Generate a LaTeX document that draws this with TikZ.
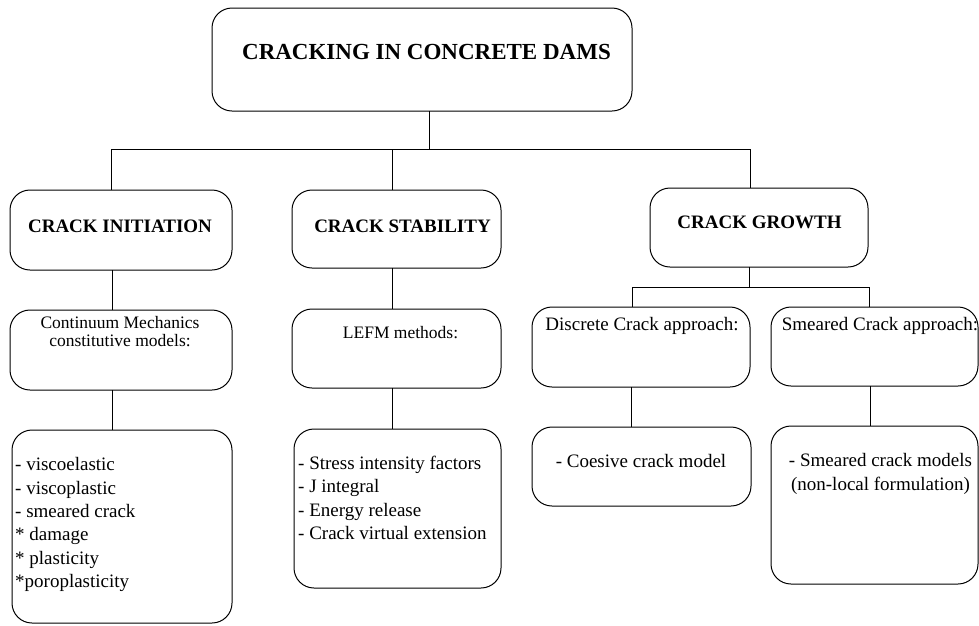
\documentclass[tikz,border=0pt]{standalone}
\usepackage{fontspec}
\setmainfont{Liberation Serif}
\newcommand\mytabl[1]{\begin{tabular}[t]{@{}l@{}}#1\end{tabular}}
\newcommand\mytabc[1]{\begin{tabular}[t]{@{}c@{}}#1\end{tabular}}
\tikzset{
  box/.style={draw, line width=1pt, rounded corners=20pt, inner sep=0pt, outer sep=0pt},
  conn/.style={draw, line width=1pt},
  lbl/.style={anchor=base, inner sep=0pt, font=\fontsize{19}{23.4}\selectfont},
  lbll/.style={anchor=base west, inner sep=0pt, font=\fontsize{19}{23.4}\selectfont},
  hdr/.style={anchor=base, inner sep=0pt, font=\fontsize{19}{23}\selectfont\bfseries},
}
\begin{document}
\begin{tikzpicture}[x=1pt,y=-1pt]
\useasboundingbox (0,0) rectangle (979,625);
% boxes
\node[box, minimum width=420pt, minimum height=103pt] (top) at (422,59.5) {};
\node[box, minimum width=222pt, minimum height=80pt] (init) at (121,230) {};
\node[box, minimum width=209pt, minimum height=78pt] (stab) at (396.5,229) {};
\node[box, minimum width=218pt, minimum height=79pt] (grow) at (759,227.5) {};
\node[box, minimum width=222pt, minimum height=80pt] (cont) at (121,350) {};
\node[box, minimum width=209pt, minimum height=79pt] (lefm) at (396.5,348.5) {};
\node[box, minimum width=218pt, minimum height=80pt] (disc) at (641,347) {};
\node[box, minimum width=207pt, minimum height=79pt] (smea) at (874.5,346.5) {};
\node[box, minimum width=220pt, minimum height=193pt] (list1) at (122,526.5) {};
\node[box, minimum width=207pt, minimum height=159pt] (list2) at (397.5,508.5) {};
\node[box, minimum width=219pt, minimum height=79pt] (coes) at (641.5,466.5) {};
\node[box, minimum width=207pt, minimum height=158pt] (smod) at (874.5,505) {};
% texts
\node[anchor=base, inner sep=0pt, font=\fontsize{23}{27}\selectfont\bfseries] (ttop) at (426.5,59) {CRACKING IN CONCRETE DAMS};
\node[hdr] (tinit) at (120,232.5) {CRACK INITIATION};
\node[hdr] (tstab) at (402.5,232.5) {CRACK STABILITY};
\node[hdr] (tgrow) at (759.5,228) {CRACK GROWTH};
\node[anchor=base, inner sep=0pt, font=\fontsize{17.5}{18.5}\selectfont] (tcont) at (120,328.3) {\mytabc{Continuum Mechanics\\constitutive models:}};
\node[anchor=base, inner sep=0pt, font=\fontsize{17.5}{20}\selectfont] (tlefm) at (400.5,338) {LEFM methods:};
\node[lbl] (tdisc) at (642,330) {Discrete Crack approach:};
\node[lbl] (tsmea) at (880,330) {Smeared Crack approach:};
\node[lbll] (tlist1) at (15,470.7) {\mytabl{- viscoelastic\\- viscoplastic\\- smeared crack\\{*} damage\\{*} plasticity\\{*}poroplasticity}};
\node[lbll] (tlist2) at (298,469.3) {\mytabl{- Stress intensity factors\\- J integral\\- Energy release\\- Crack virtual extension}};
\node[lbl] (tcoes) at (641,467) {- Coesive crack model};
\node[anchor=base, inner sep=0pt, font=\fontsize{19}{24}\selectfont] (tsmod) at (880.5,466.7) {\mytabc{- Smeared crack models\\(non-local formulation)}};
% junctions
\coordinate (j0) at (429,149);
\coordinate (jL) at (111,149);
\coordinate (jM) at (392,149);
\coordinate (jR) at (750,149);
\coordinate (g0) at (749,287);
\coordinate (gL) at (632,287);
\coordinate (gR) at (869,287);
% connectors
\draw[conn] (top.south -| j0) -- (j0);
\draw[conn] (jL) -- (jR);
\draw[conn] (jL) -- (init.north -| jL);
\draw[conn] (jM) -- (stab.north -| jM);
\draw[conn] (jR) -- (grow.north -| jR);
\draw[conn] ([xshift=1pt]init.south -| jL) -- ([xshift=1pt]cont.north -| jL);
\draw[conn] (stab.south -| jM) -- (lefm.north -| jM);
\draw[conn] (grow.south -| g0) -- (g0);
\draw[conn] (gL) -- (gR);
\draw[conn] (gL) -- (disc.north -| gL);
\draw[conn] (gR) -- (smea.north -| gR);
\draw[conn] ([xshift=1pt]cont.south -| jL) -- ([xshift=1pt]list1.north -| jL);
\draw[conn] (lefm.south -| jM) -- (list2.north -| jM);
\draw[conn] ([xshift=-1pt]disc.south -| gL) -- ([xshift=-1pt]coes.north -| gL);
\draw[conn] ([xshift=1pt]smea.south -| gR) -- ([xshift=1pt]smod.north -| gR);
\end{tikzpicture}
\end{document}
